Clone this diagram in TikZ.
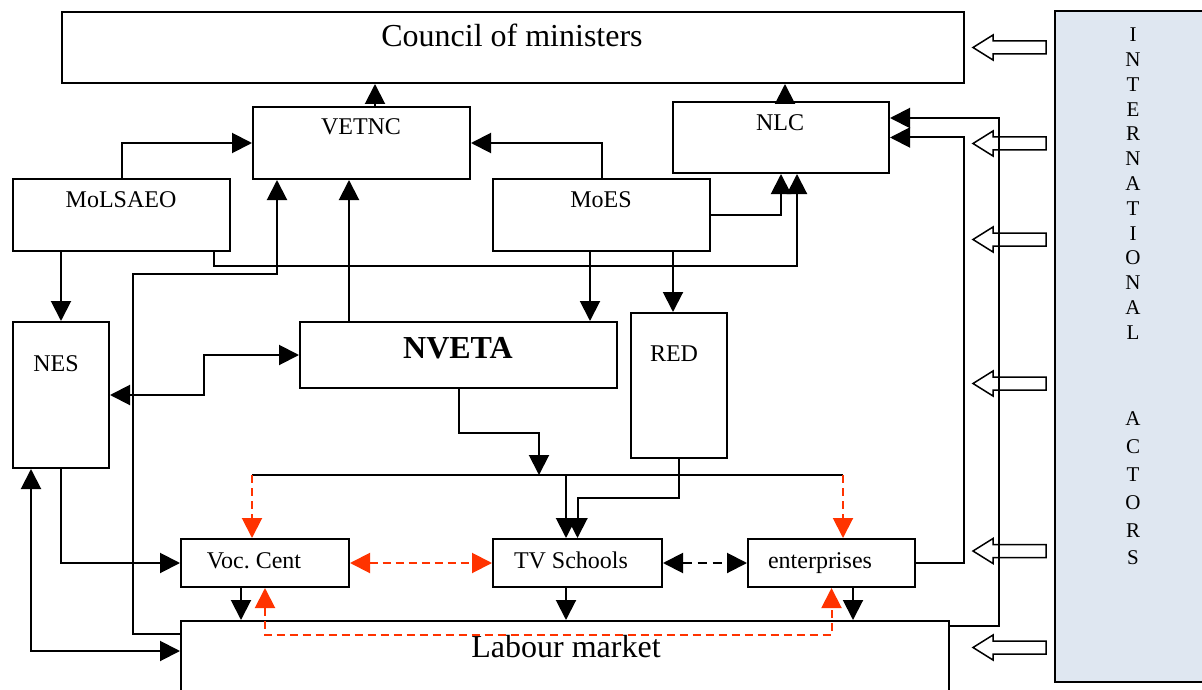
\documentclass[tikz,border=0pt]{standalone}
\usepackage{fontspec}
\setmainfont{Liberation Serif}
\usetikzlibrary{arrows.meta}
\definecolor{actorsblue}{RGB}{223,231,241}
\definecolor{linkred}{RGB}{255,51,0}

\begin{document}
\begin{tikzpicture}[x=1pt,y=-1pt,line width=2pt,
    box/.style={draw,rectangle,inner sep=0pt},
    lbl/.style={anchor=base,inner sep=0pt,font=\fontsize{24}{26}\selectfont},
    big/.style={anchor=base,inner sep=0pt,font=\fontsize{32}{34}\selectfont},
    arr/.style={-{Triangle[length=20pt,width=20pt]}},
    darr/.style={{Triangle[length=20pt,width=20pt]}-{Triangle[length=20pt,width=20pt]}},
    rdash/.style={color=linkred,line width=2pt,dash pattern=on 8pt off 5pt},
    kdash/.style={line width=2pt,dash pattern=on 9pt off 6pt}]
    \useasboundingbox (0,0) rectangle (1202,690);

    \node[box,fill=actorsblue,minimum width=160pt,minimum height=671pt] (actors) at (1135,346.5) {};
    \node[anchor=north,align=center,inner sep=0pt,font=\fontsize{21}{24.8}\selectfont] (actorsT) at (1133,27)
      {I\\N\\T\\E\\R\\N\\A\\T\\I\\O\\N\\A\\L};
    \node[anchor=north,align=center,inner sep=0pt,font=\fontsize{21}{27.8}\selectfont] (actorsB) at (1133,411)
      {A\\C\\T\\O\\R\\S};

    \foreach \y in {47.5,143.5,239.5,383.5,551,647.5} {
      \draw[line width=1.5pt] (973,\y) -- (993,\y-12.5) -- (993,\y-6.5) -- (1046,\y-6.5)
        -- (1046,\y+6.5) -- (993,\y+6.5) -- (993,\y+12.5) -- cycle;
    }

    % boxes
    \node[box,minimum width=902pt,minimum height=71pt] (council) at (513,47.5) {};
    \node[box,minimum width=217pt,minimum height=72pt] (vetnc) at (361.5,143) {};
    \node[box,minimum width=216pt,minimum height=71pt] (nlc) at (781,137.5) {};
    \node[box,minimum width=217pt,minimum height=72pt] (molsaeo) at (121.5,215) {};
    \node[box,minimum width=217pt,minimum height=72pt] (moes) at (601.5,215) {};
    \node[box,minimum width=96pt,minimum height=146pt] (nes) at (61,395) {};
    \node[box,minimum width=317pt,minimum height=66pt] (nveta) at (458.5,355) {};
    \node[box,minimum width=96pt,minimum height=145pt] (red) at (679,385.5) {};
    \node[box,minimum width=168pt,minimum height=48pt] (voc) at (265,563) {};
    \node[box,minimum width=169pt,minimum height=48pt] (tvs) at (577.5,563) {};
    \node[box,minimum width=167pt,minimum height=48pt] (ent) at (831.5,563) {};
    \node[box,minimum width=768pt,minimum height=89pt] (labour) at (565,665.5) {};

    \node[big] (councilT) at (512,47) {Council of ministers};
    \node[lbl] (vetncT) at (361,135) {VETNC};
    \node[lbl] (nlcT) at (780,131) {NLC};
    \node[lbl] (molsaeoT) at (121,207) {MoLSAEO};
    \node[lbl] (moesT) at (601,207) {MoES};
    \node[lbl] (nesT) at (56,371) {NES};
    \node[big,font=\fontsize{32}{34}\selectfont\bfseries] (nvetaT) at (458,358) {NVETA};
    \node[lbl] (redT) at (674,361) {RED};
    \node[lbl] (vocT) at (254,568) {Voc.~Cent};
    \node[lbl] (tvsT) at (571,568) {TV Schools};
    \node[lbl] (entT) at (820,568) {enterprises};
    \node[big] (labourT) at (566,657) {Labour market};

    % links upwards
    \draw[arr] ([xshift=13.5pt]vetnc.north) coordinate (p1) -- (p1 |- council.south);
    \draw[arr] ([xshift=4pt]nlc.north) coordinate (p2) -- (p2 |- council.south);
    \draw[arr] (molsaeo.north) |- (vetnc.west);
    \draw[arr] (moes.north) |- (vetnc.east);
    \draw[arr] (moes.east) -| (nlc.south);
    \draw[arr] ([xshift=-17pt]molsaeo.south east) -- ++(0,14) -| ([xshift=16pt]nlc.south);
    \draw[arr] ([xshift=50pt]nveta.north west) coordinate (p5) -- (p5 |- vetnc.south);
    \draw[arr] ([yshift=-14pt]labour.north west) -- ++(-47,0) -- ++(0,-360) -| ([xshift=25pt]vetnc.south west);
    \draw[arr] (ent.east) -- ++(48,0) |- (nlc.east);
    \draw[arr] ([yshift=-6pt]labour.north east) -- ++(49,0) |- ([yshift=19.5pt]nlc.east);

    % links downwards
    \draw[arr] (molsaeo.south -| nes.north) -- (nes.north);
    \draw[arr] ([xshift=-11.5pt]moes.south) coordinate (p3) -- (p3 |- nveta.north);
    \coordinate (p4) at ([xshift=-6pt]red.north);
    \draw[arr] (p4 |- moes.south) -- (p4);
    \draw[darr] (nveta.west) -- ++(-95,0) |- (nes.east);

    \coordinate (busL) at (252,475);
    \coordinate (busR) at (843,475);
    \coordinate (busIn) at (539,475);
    \draw[arr] (nveta.south) -- ++(0,44) -| (busIn);
    \draw (busL) -- (busR);
    \draw[arr,rdash] (busL) -- (busL |- voc.north);
    \draw[arr,rdash] (busR) -- (busR |- ent.north);
    \coordinate (p6) at ([xshift=-11.5pt]tvs.north);
    \draw[arr] (busL -| p6) -- (p6);
    \draw[arr] (red.south) -- ++(0,39) -| (tvs.north);

    % bottom row
    \draw[darr,rdash] (voc.east) -- (tvs.west);
    \draw[darr,kdash] (tvs.east) -- (ent.west);
    \draw[arr] (nes.south) |- (voc.west);
    \draw[darr] ([xshift=-30pt]nes.south) |- ([yshift=14.5pt]labour.west);
    \draw[arr] ([xshift=-24pt]voc.south) coordinate (p7) -- (p7 |- labour.north);
    \draw[darr,rdash] (voc.south) -- ++(0,47) -| (ent.south);
    \draw[arr] ([xshift=-11.5pt]tvs.south) coordinate (p8) -- (p8 |- labour.north);
    \draw[arr] ([xshift=21.5pt]ent.south) coordinate (p9) -- (p9 |- labour.north);
\end{tikzpicture}
\end{document}
